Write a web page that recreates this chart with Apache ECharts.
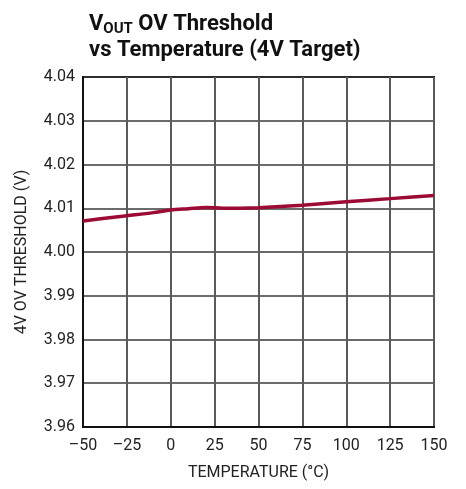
<!DOCTYPE html>
<html>
<head>
<meta charset="utf-8">
<script src="https://cdn.jsdelivr.net/npm/echarts@6/dist/echarts.min.js"></script>
<style>
  html, body { margin: 0; padding: 0; background: #fff; }
  #chart { width: 466px; height: 489px; }
</style>
</head>
<body>
<div id="chart"></div>
<script>
// temperature (°C) and threshold (V)
const temps = [-50, -40, -25, -10, 0, 10, 20, 30, 40, 50, 75, 100, 125, 150];
const threshold = [4.0071, 4.0076, 4.0083, 4.0090, 4.0096, 4.0099, 4.0102, 4.0100, 4.0100, 4.0101, 4.0107, 4.0115, 4.0122, 4.0129];
const xTicks = [-50, -25, 0, 25, 50, 75, 100, 125, 150];
const yTicks = [3.96, 3.97, 3.98, 3.99, 4.00, 4.01, 4.02, 4.03, 4.04];

const font = "Roboto, 'Liberation Sans', Arial, sans-serif";
const chart = echarts.init(document.querySelector("#chart"));

chart.setOption({
    animation: false,
    title: {
        text: "{v|V}{sub|OUT}{v| OV Threshold}\n{v|vs Temperature (4V Target)}",
        left: 84,
        top: 6,
        textStyle: {
            rich: {
                v: { fontFamily: font, fontWeight: "bold", fontSize: 22, color: "#111", lineHeight: 26 },
                sub: { fontFamily: font, fontWeight: "bold", fontSize: 15, color: "#111", verticalAlign: "bottom", padding: [8, 0, 0, 0], lineHeight: 26 }
            }
        }
    },
    grid: { left: 83, right: 32, top: 77, bottom: 62 },
    xAxis: {
        type: "value",
        min: -50,
        max: 150,
        interval: 25,
        name: "TEMPERATURE (°C)",
        nameLocation: "middle",
        nameGap: 38,
        nameMoveOverlap: false,
        nameTextStyle: { fontFamily: font, fontSize: 16, color: "#222" },
        axisLine: { show: true, onZero: false, lineStyle: { color: "#111", width: 2 } },
        axisTick: { show: false },
        axisLabel: {
            fontFamily: font, fontSize: 16, color: "#222", margin: 11,
            formatter: v => xTicks.includes(v) ? String(v).replace("-", "\u2013") : ""
        },
        splitLine: { show: true, lineStyle: { color: "#5a5a5a", width: 2 } }
    },
    yAxis: {
        type: "value",
        min: 3.96,
        max: 4.04,
        interval: 0.01,
        name: "4V OV THRESHOLD (V)",
        nameLocation: "middle",
        nameGap: 53,
        nameMoveOverlap: false,
        nameTextStyle: { fontFamily: font, fontSize: 16, color: "#222" },
        axisLine: { show: true, onZero: false, lineStyle: { color: "#111", width: 2 } },
        axisTick: { show: false },
        axisLabel: {
            fontFamily: font, fontSize: 16, color: "#222", margin: 8,
            formatter: v => {
                const t = yTicks.find(k => Math.abs(k - v) < 1e-6);
                return t === undefined ? "" : t.toFixed(2);
            }
        },
        splitLine: { show: true, lineStyle: { color: "#3a3a3a", width: 1.5 } }
    },
    series: [{
        type: "line",
        data: temps.map((t, i) => [t, threshold[i]]),
        smooth: 0.3,
        showSymbol: false,
        lineStyle: { color: "#9c0b34", width: 3.5 }
    }],
    graphic: [{
        type: "rect",
        shape: { x: 83, y: 77, width: 351, height: 350 },
        style: { fill: "none", stroke: "#111", lineWidth: 2 },
        silent: true
    }]
});
</script>
</body>
</html>
